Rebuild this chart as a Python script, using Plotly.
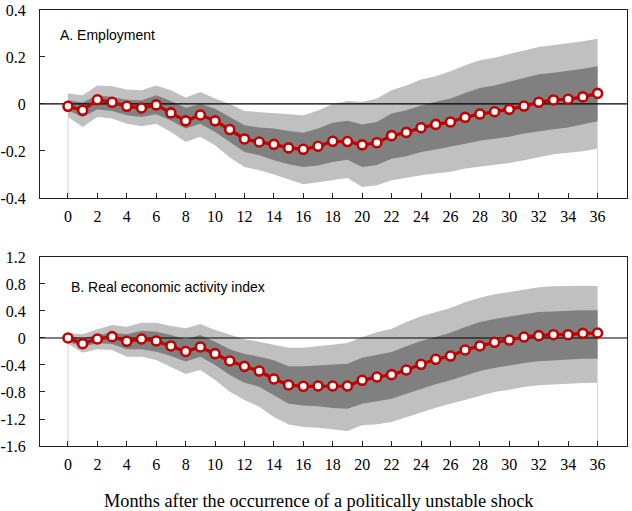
import plotly.graph_objects as go
from plotly.subplots import make_subplots

months = list(range(37))

# Panel A: Employment
emp_mid = [-0.010, -0.027, 0.018, 0.007, -0.010, -0.017, -0.004, -0.038, -0.072, -0.047,
           -0.072, -0.109, -0.149, -0.162, -0.172, -0.187, -0.193, -0.180, -0.159, -0.160,
           -0.174, -0.165, -0.135, -0.121, -0.101, -0.087, -0.077, -0.057, -0.043, -0.033,
           -0.023, -0.009, 0.007, 0.017, 0.020, 0.030, 0.045]
emp_hi90 = [0.044, 0.037, 0.079, 0.075, 0.062, 0.058, 0.079, 0.058, 0.027, 0.051,
            0.023, 0.000, -0.030, -0.034, -0.038, -0.044, -0.048, -0.028, 0.000, 0.013,
            0.008, 0.023, 0.058, 0.079, 0.104, 0.118, 0.139, 0.165, 0.186, 0.197,
            0.211, 0.228, 0.243, 0.250, 0.257, 0.267, 0.278]
emp_hi68 = [0.016, 0.006, 0.037, 0.030, 0.018, 0.016, 0.037, 0.013, -0.016, 0.000,
            -0.020, -0.055, -0.091, -0.100, -0.105, -0.115, -0.123, -0.105, -0.080, -0.072,
            -0.087, -0.077, -0.041, -0.027, -0.007, 0.009, 0.023, 0.047, 0.068, 0.079,
            0.094, 0.111, 0.126, 0.133, 0.140, 0.150, 0.160]
emp_lo68 = [-0.027, -0.055, -0.024, -0.030, -0.048, -0.055, -0.044, -0.070, -0.105, -0.084,
            -0.119, -0.162, -0.204, -0.218, -0.240, -0.257, -0.268, -0.262, -0.247, -0.237,
            -0.268, -0.260, -0.233, -0.223, -0.204, -0.194, -0.183, -0.169, -0.157, -0.150,
            -0.140, -0.126, -0.116, -0.108, -0.100, -0.088, -0.074]
emp_lo90 = [-0.055, -0.098, -0.055, -0.062, -0.084, -0.095, -0.084, -0.119, -0.162, -0.140,
            -0.176, -0.228, -0.268, -0.282, -0.300, -0.320, -0.342, -0.333, -0.325, -0.315,
            -0.353, -0.346, -0.325, -0.313, -0.304, -0.296, -0.289, -0.275, -0.268, -0.261,
            -0.251, -0.240, -0.226, -0.214, -0.208, -0.201, -0.190]

# Panel B: Real economic activity index
rea_mid = [0.000, -0.084, -0.015, 0.020, -0.049, -0.015, -0.044, -0.118, -0.200, -0.133,
           -0.232, -0.340, -0.420, -0.490, -0.607, -0.696, -0.716, -0.711, -0.711, -0.711,
           -0.627, -0.578, -0.543, -0.474, -0.390, -0.316, -0.267, -0.178, -0.118, -0.064,
           -0.030, 0.015, 0.035, 0.049, 0.049, 0.069, 0.074]
rea_hi90 = [0.074, 0.054, 0.128, 0.193, 0.168, 0.227, 0.227, 0.178, 0.143, 0.207,
            0.118, 0.044, -0.020, -0.054, -0.094, -0.143, -0.143, -0.123, -0.094, -0.074,
            0.015, 0.084, 0.138, 0.237, 0.321, 0.385, 0.444, 0.528, 0.598, 0.647,
            0.681, 0.721, 0.750, 0.765, 0.775, 0.775, 0.770]
rea_hi68 = [0.030, -0.005, 0.044, 0.079, 0.054, 0.109, 0.094, 0.044, -0.020, 0.044,
            -0.054, -0.168, -0.237, -0.277, -0.330, -0.420, -0.420, -0.405, -0.395, -0.380,
            -0.291, -0.247, -0.207, -0.123, -0.044, 0.015, 0.079, 0.163, 0.237, 0.281,
            0.321, 0.351, 0.385, 0.395, 0.405, 0.410, 0.410]
rea_lo68 = [-0.054, -0.128, -0.079, -0.089, -0.168, -0.168, -0.202, -0.267, -0.350, -0.277,
            -0.400, -0.548, -0.662, -0.721, -0.850, -0.973, -1.000, -1.010, -1.037, -1.047,
            -0.973, -0.933, -0.899, -0.825, -0.750, -0.686, -0.627, -0.553, -0.489, -0.444,
            -0.405, -0.370, -0.346, -0.331, -0.316, -0.306, -0.306]
rea_lo90 = [-0.084, -0.217, -0.168, -0.178, -0.277, -0.277, -0.326, -0.425, -0.533, -0.474,
            -0.622, -0.795, -0.918, -1.017, -1.170, -1.280, -1.320, -1.330, -1.358, -1.378,
            -1.294, -1.279, -1.244, -1.170, -1.096, -1.032, -0.973, -0.914, -0.850, -0.800,
            -0.765, -0.726, -0.701, -0.686, -0.677, -0.667, -0.662]

x_ticks = list(range(0, 37, 2))
emp_ticks = [-0.4, -0.2, 0, 0.2, 0.4]
emp_ticklabels = ["-0.4", "-0.2", "0", "0.2", "0.4"]
rea_ticks = [-1.6, -1.2, -0.8, -0.4, 0, 0.4, 0.8, 1.2]
rea_ticklabels = ["-1.6", "-1.2", "-0.8", "-0.4", "0", "0.4", "0.8", "1.2"]

LIGHT = "#c0c0c0"
DARK = "#808080"
RED = "#c00000"
SERIF = "Liberation Serif, Times New Roman, Times, serif"
SANS = "Liberation Sans, Arial, sans-serif"
X_RANGE = [-1.9, 38.0]

fig = make_subplots(rows=2, cols=1, vertical_spacing=0.135)


def add_panel(row, mid, lo90, lo68, hi68, hi90, y_min):
    # edge lines at first / last month (area chart edges)
    for i in (0, -1):
        fig.add_trace(go.Scatter(x=[months[i], months[i]], y=[y_min, lo90[i]], mode="lines",
                                 line=dict(color="#d4d4d4", width=1), hoverinfo="skip"),
                      row=row, col=1)
    fig.add_trace(go.Scatter(x=months, y=lo90, mode="lines", line=dict(width=0),
                             hoverinfo="skip"), row=row, col=1)
    fig.add_trace(go.Scatter(x=months, y=hi90, mode="lines", line=dict(width=0),
                             fill="tonexty", fillcolor=LIGHT, hoverinfo="skip"), row=row, col=1)
    fig.add_trace(go.Scatter(x=months, y=lo68, mode="lines", line=dict(width=0),
                             hoverinfo="skip"), row=row, col=1)
    fig.add_trace(go.Scatter(x=months, y=hi68, mode="lines", line=dict(width=0),
                             fill="tonexty", fillcolor=DARK, hoverinfo="skip"), row=row, col=1)
    # zero reference line drawn over the bands
    fig.add_trace(go.Scatter(x=X_RANGE, y=[0, 0], mode="lines",
                             line=dict(color="black", width=1.2), hoverinfo="skip"),
                  row=row, col=1)
    fig.add_trace(go.Scatter(x=months, y=mid, mode="lines+markers",
                             line=dict(color=RED, width=3.2),
                             marker=dict(size=9, color="white", line=dict(color=RED, width=2.6))),
                  row=row, col=1)


add_panel(1, emp_mid, emp_lo90, emp_lo68, emp_hi68, emp_hi90, emp_ticks[0])
add_panel(2, rea_mid, rea_lo90, rea_lo68, rea_hi68, rea_hi90, rea_ticks[0])

axis_style = dict(showline=True, linecolor="#222222", linewidth=1, mirror=True,
                  showgrid=False, zeroline=False, ticks="inside", ticklen=5,
                  tickcolor="#222222", automargin=False,
                  tickfont=dict(family=SERIF, size=16, color="black"))

for r in (1, 2):
    fig.update_xaxes(range=X_RANGE, tickvals=x_ticks, ticktext=[str(v) for v in x_ticks],
                     ticklabelstandoff=4, row=r, col=1, **axis_style)

fig.update_yaxes(range=[-0.4, 0.4], tickvals=emp_ticks, ticktext=emp_ticklabels,
                 ticklabelstandoff=10, row=1, col=1, **axis_style)
fig.update_yaxes(range=[-1.6, 1.2], tickvals=rea_ticks, ticktext=rea_ticklabels,
                 ticklabelstandoff=10, row=2, col=1, **axis_style)

fig.update_layout(
    width=632, height=511,
    margin=dict(l=40, r=5, t=10, b=65, autoexpand=False),
    paper_bgcolor="white", plot_bgcolor="white",
    font=dict(family=SERIF),
    showlegend=False,
    yaxis=dict(domain=[0.569, 1.0]),
    yaxis2=dict(domain=[0.0, 0.4335]),
    annotations=[
        dict(text="A. Employment", xref="x domain", yref="y domain", x=0.031, y=0.867,
             xanchor="left", yanchor="middle", showarrow=False,
             font=dict(family=SANS, size=14, color="black")),
        dict(text="B. Real economic activity index", xref="x2 domain", yref="y2 domain",
             x=0.049, y=0.841, xanchor="left", yanchor="middle", showarrow=False,
             font=dict(family=SANS, size=14, color="black")),
        dict(text="Months after the occurrence of a politically unstable shock",
             xref="paper", yref="paper", x=0.475, y=-0.125, xanchor="center",
             yanchor="middle", showarrow=False,
             font=dict(family=SERIF, size=18.3, color="black")),
    ],
)

# drop the default page margin so the figure sits at the window's top-left corner
fig.write_html("out.html", config={"displayModeBar": False},
               post_script="document.body.style.margin = '0';")
